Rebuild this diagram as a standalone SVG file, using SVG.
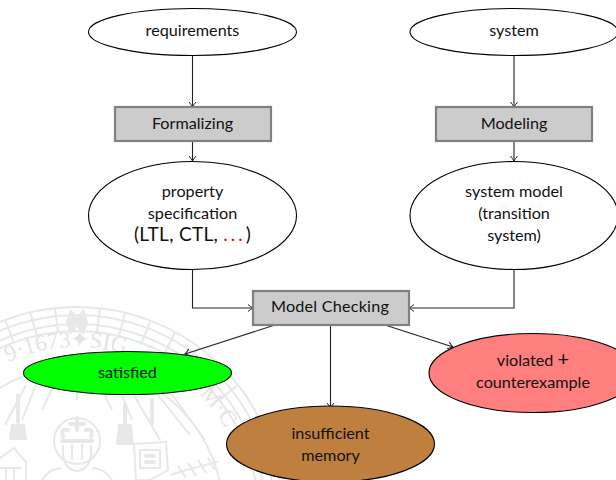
<svg xmlns="http://www.w3.org/2000/svg" width="616" height="480" viewBox="0 0 616 480">
<style>
text{font-family:"Lato","Open Sans",sans-serif;font-size:16.200px;fill:#111;text-anchor:middle}
.n{fill:#fff;stroke:#000;stroke-width:1.1}
.b{fill:#ccc;stroke:#808080;stroke-width:2.2}
.c{fill:none;stroke:#222;stroke-width:1.1;marker-end:url(#a)}
.w{fill:none;stroke:#e8e8e8;stroke-width:2}
.t{fill:none;stroke:#e8e8e8;stroke-width:4;stroke-linecap:round}
.f{fill:#e8e8e8;stroke:none}
text.s{font-family:"Liberation Serif",serif;font-size:23px;fill:#e4e4e4;text-anchor:start}
</style>
<defs>
<marker id="a" markerUnits="userSpaceOnUse" markerWidth="10" markerHeight="10" refX="7" refY="5" orient="auto"><path d="M2 1.500Q5 4 7 5Q5 6 2 8.500" fill="none" stroke="#222"/></marker>
<path id="ring1" d="M8 362A165 165 0 0 1 159.500 369"/>
<path id="ring2" d="M199 394A170 170 0 0 1 240 460"/>
</defs>
<rect width="616" height="480" fill="#fff"/>
<g id="seal">
<circle class="w" cx="77" cy="512" r="205"/><circle class="w" cx="77" cy="512" r="197"/><circle class="w" cx="77" cy="512" r="188"/><circle class="w" cx="77" cy="512" r="181"/><circle class="w" cx="77" cy="512" r="146"/>
<path class="w" d="M5 320L14 343M30 312L37 336M55 308L58 332M100 308L97 332M125 313L119 336M150 322L141 344M175 333L164 354M198 348L185 366M220 366L205 381M237 386L220 399"/>
<path class="f" d="M70 309Q76 314 77 318Q78 314 84 309L88 322L84 335Q78 330 77 326Q76 330 70 335L66 322Z"/>
<text class="s"><textPath href="#ring1">9·1673</textPath></text>
<text class="s"><textPath href="#ring1" startOffset="64">✦SIG</textPath></text>
<text class="s"><textPath href="#ring2">M·C</textPath></text>
<path class="w" d="M77 370V400M60 372L42 410M94 372L112 410M40 375L22 420M114 375L132 420M150 385L190 435M165 385L205 440M128 385L160 440M26 385L5 425"/>
<path class="t" d="M18 395V422M125 405V424M152 400V424"/>
<path class="f" d="M11 424H25L27 440H9ZM118 424H132L134 445H116Z"/>
<circle class="w" cx="77" cy="441" r="23"/>
<path class="t" d="M77 418V430M70 424H84M63 437Q60 428 68 430M91 437Q94 428 86 430M62 441H92"/>
<path class="w" d="M63 445V455Q65 470 77 471Q89 470 91 455V445M72 444V460M82 444V460M42 480Q50 468 62 468M112 480Q104 468 92 468"/>
<path class="w" d="M0 458L14 448L26 462V480M0 468H22M6 468V480M14 468V480M134 444L166 442L168 470L150 480H136ZM140 450H160V468H140Z"/>
<path class="t" d="M146 456H154M146 462H154"/>
<path class="w" d="M170 475Q192 468 218 462M178 466L186 478M188 463L196 476M198 460L206 473M208 458L215 470"/>
</g>
<g id="connectors">
<path class="c" d="M192.500 56V107"/><path class="c" d="M192.500 141V161"/>
<path class="c" d="M514 50V107"/><path class="c" d="M514 141V161"/>
<path class="c" d="M192.500 270V308H253"/><path class="c" d="M514 270V308H409"/>
<path class="c" d="M275 325L185 354"/><path class="c" d="M330.500 325V408"/><path class="c" d="M385 325L453 347"/>
</g>
<g id="requirements"><ellipse class="n" cx="192.500" cy="32" rx="104" ry="23.500"/><text x="192.500" y="36">requirements</text></g>
<g id="system"><ellipse class="n" cx="514" cy="32" rx="104" ry="23.500"/><text x="514" y="36">system</text></g>
<g id="formalizing"><rect class="b" x="115" y="107" width="156" height="34"/><text x="192.500" y="129">Formalizing</text></g>
<g id="modeling"><rect class="b" x="436" y="107" width="156" height="34"/><text x="514" y="129">Modeling</text></g>
<g id="property"><ellipse class="n" cx="192.500" cy="215.500" rx="104" ry="54"/><text x="192.500" y="197">property</text><text x="192.500" y="219">specification</text><text x="192.500" y="241" style="font-size:19px;letter-spacing:.3px">(LTL, CTL, <tspan fill="#f00" letter-spacing="3">...</tspan>)</text></g>
<g id="model"><ellipse class="n" cx="514" cy="215.500" rx="104" ry="54"/><text x="514" y="197">system model</text><text x="514" y="219">(transition</text><text x="514" y="241">system)</text></g>
<g id="check"><rect class="b" x="253" y="291" width="156" height="34"/><text x="330" y="312" letter-spacing=".2">Model Checking</text></g>
<g id="satisfied"><ellipse cx="127.500" cy="373" rx="104" ry="21.500" fill="#0f0" stroke="#000" stroke-width="1.100"/><text x="127.500" y="378">satisfied</text></g>
<g id="memory"><ellipse cx="330.500" cy="444" rx="104" ry="38" fill="#bf7f3f" stroke="#000" stroke-width="1.100"/><text x="330.500" y="439">insufficient</text><text x="330.500" y="461">memory</text></g>
<g id="violated"><ellipse cx="533" cy="373" rx="104" ry="39.500" fill="#ff7f7f" stroke="#000" stroke-width="1.100"/><text x="533" y="366">violated <tspan style="font-size:20px">+</tspan></text><text x="533" y="388">counterexample</text></g>
</svg>
